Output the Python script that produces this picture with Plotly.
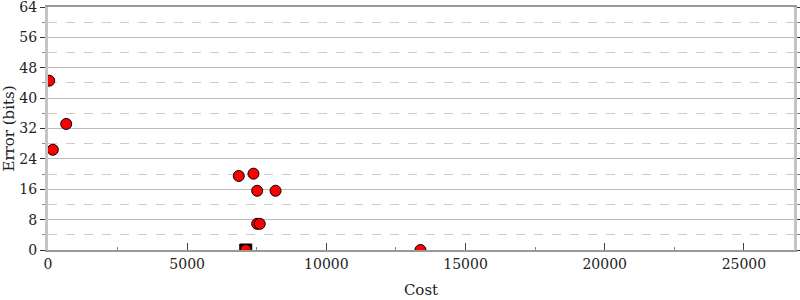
import plotly.graph_objects as go

cost = [43, 173, 654, 6854, 7381, 7514, 8175, 7514, 7608, 13380, 7105]
error_bits = [44.6, 26.4, 33.2, 19.5, 20.1, 15.6, 15.6, 6.9, 6.9, 0.0, 0.0]
best_cost = [7105]
best_error = [0.0]

x_ticks = [0, 5000, 10000, 15000, 20000, 25000]
y_ticks = [0, 8, 16, 24, 32, 40, 48, 56, 64]

font = "DejaVu Serif, Liberation Serif, serif"

fig = go.Figure()
fig.add_trace(go.Scatter(
    x=best_cost, y=best_error, mode="markers",
    marker=dict(symbol="square", size=12, color="#111111",
                line=dict(color="#000000", width=1)),
    hoverinfo="skip", showlegend=False))
fig.add_trace(go.Scatter(
    x=cost, y=error_bits, mode="markers",
    marker=dict(symbol="circle", size=11, color="#ff0000",
                line=dict(color="#000000", width=1)),
    showlegend=False))

fig.update_layout(
    width=800, height=300,
    margin=dict(l=48, r=6, t=7, b=50),
    plot_bgcolor="white", paper_bgcolor="white",
    font=dict(family=font, size=14, color="#222222"),
    xaxis=dict(
        range=[0, 26800], tickvals=x_ticks, ticktext=[str(v) for v in x_ticks],
        showgrid=False, zeroline=False, automargin=False, ticklabeloverflow="allow",
        showline=True, linecolor="#999999", linewidth=2, mirror=True,
        ticks="inside", ticklen=7, tickcolor="#444444", tickwidth=1,
        minor=dict(dtick=2500, ticks="inside", ticklen=3, tickcolor="#888888", showgrid=False),
        title=dict(text="Cost", font=dict(family=font, size=15), standoff=14),
        tickfont=dict(family=font, size=14),
    ),
    yaxis=dict(
        range=[0, 64], tickvals=y_ticks, ticktext=[str(v) for v in y_ticks],
        showgrid=True, gridcolor="#bbbbbb", gridwidth=1, zeroline=False, automargin=False,
        ticklabeloverflow="allow",
        showline=True, linecolor="#c4c4c4", linewidth=3, mirror="ticks",
        ticks="outside", ticklen=5, tickcolor="#333333", tickwidth=1,
        minor=dict(dtick=4, ticks="outside", ticklen=3, tickcolor="#888888",
                   showgrid=True, gridcolor="#cccccc", griddash="dash", gridwidth=1),
        title=dict(text="Error (bits)", font=dict(family=font, size=15), standoff=6),
        tickfont=dict(family=font, size=14),
    ),
)

fig.write_html("out.html")
